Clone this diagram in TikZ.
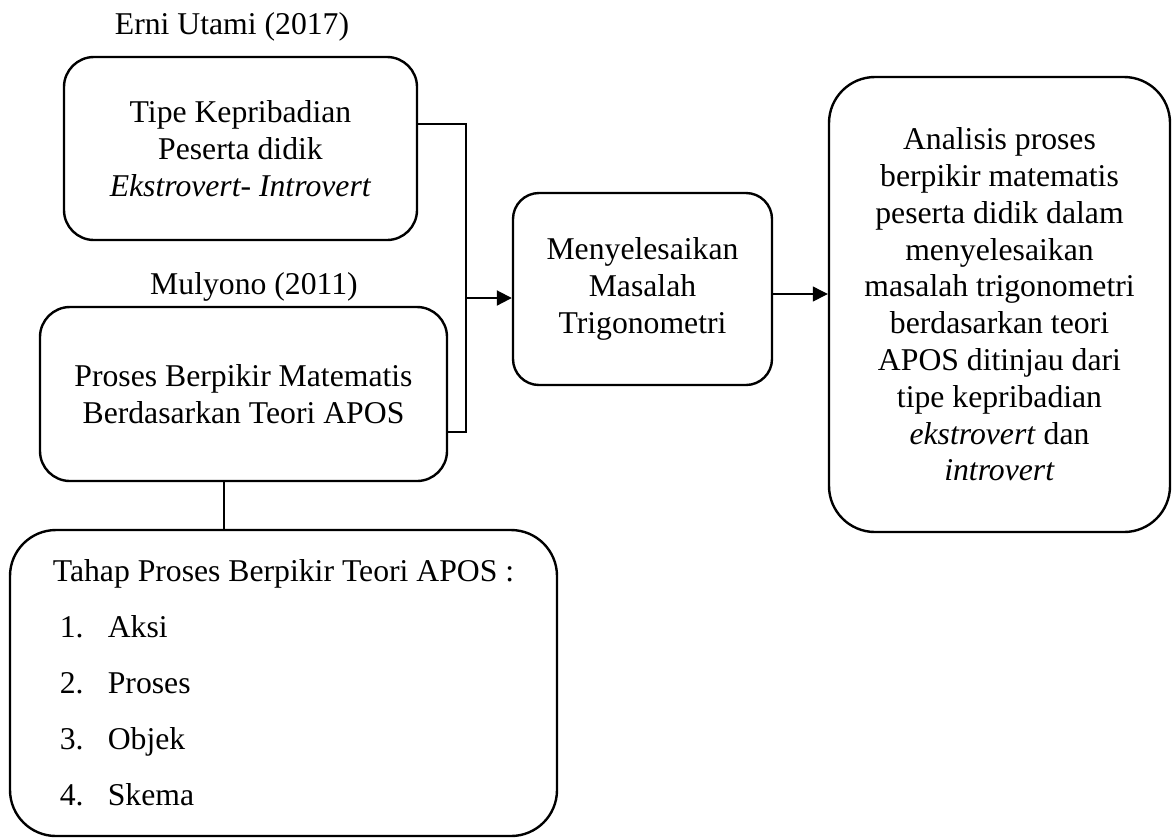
\documentclass[tikz,border=0pt]{standalone}
\usepackage{fontspec}
\setmainfont{Liberation Serif}
\usetikzlibrary{arrows.meta}

\begin{document}
\begin{tikzpicture}[
        x=0.5pt, y={(0pt,-0.5pt)},
        box_style/.style={draw, line width=1.2pt, rounded corners=15pt, align=center, inner sep=0pt,
            font=\fontsize{15.85}{18.4}\selectfont},
        label_style/.style={font=\fontsize{15.85}{18.4}\selectfont, inner sep=0pt},
        link_style/.style={line width=0.6pt},
        arrow_style/.style={line width=0.6pt, -{Triangle[length=7.5pt, width=7.5pt]}}
    ]
        \useasboundingbox (0,0) rectangle (1172,837);

        % Sources
        \node[label_style] (erni) at (232,27) {Erni Utami (2017)};
        \node[label_style] (mulyono) at (254,287) {Mulyono (2011)};

        % Boxes
        \node[box_style, minimum width=176.5pt, minimum height=91.5pt] (tipe) at (240.5,148.5)
            {Tipe Kepribadian\\Peserta didik\\\textit{Ekstrovert- Introvert}};
        \node[box_style, minimum width=203.5pt, minimum height=87pt] (proses) at (243.5,394)
            {Proses Berpikir Matematis\\Berdasarkan Teori APOS};
        \node[box_style, rounded corners=23pt, align=left, minimum width=273.5pt, minimum height=153pt] (tahap) at (283.5,683)
            {Tahap Proses Berpikir Teori APOS :\\[9.6pt]
             \hspace*{3.5pt}\makebox[24pt][l]{1.}Aksi\\[9.6pt]
             \hspace*{3.5pt}\makebox[24pt][l]{2.}Proses\\[9.6pt]
             \hspace*{3.5pt}\makebox[24pt][l]{3.}Objek\\[9.6pt]
             \hspace*{3.5pt}\makebox[24pt][l]{4.}Skema};
        \node[box_style, rounded corners=13pt, minimum width=129.5pt, minimum height=96pt] (masalah) at (642.5,289)
            {Menyelesaikan\\Masalah\\Trigonometri};
        \node[box_style, rounded corners=23pt, minimum width=170.5pt, minimum height=227.5pt] (analisis) at (999.5,304.5)
            {Analisis proses\\berpikir matematis\\peserta didik dalam\\menyelesaikan\\masalah trigonometri\\berdasarkan teori\\APOS ditinjau dari\\tipe kepribadian\\\textit{ekstrovert} dan\\\textit{introvert}};

        % Connectors
        \coordinate (join) at (466,298);
        \coordinate (m_out) at ([yshift=-2.5pt]masalah.east);
        \coordinate (p_out) at ([xshift=-9.75pt]proses.south);

        \draw[link_style] ([yshift=12.25pt]tipe.east) -| (join) |- ([yshift=-19pt]proses.east);
        \draw[arrow_style, line width=1pt] (join) -- (join -| masalah.west);
        \draw[arrow_style] (m_out) -- (m_out -| analisis.west);
        \draw[link_style] (p_out) -- (p_out |- tahap.north);
    \end{tikzpicture}
\end{document}
